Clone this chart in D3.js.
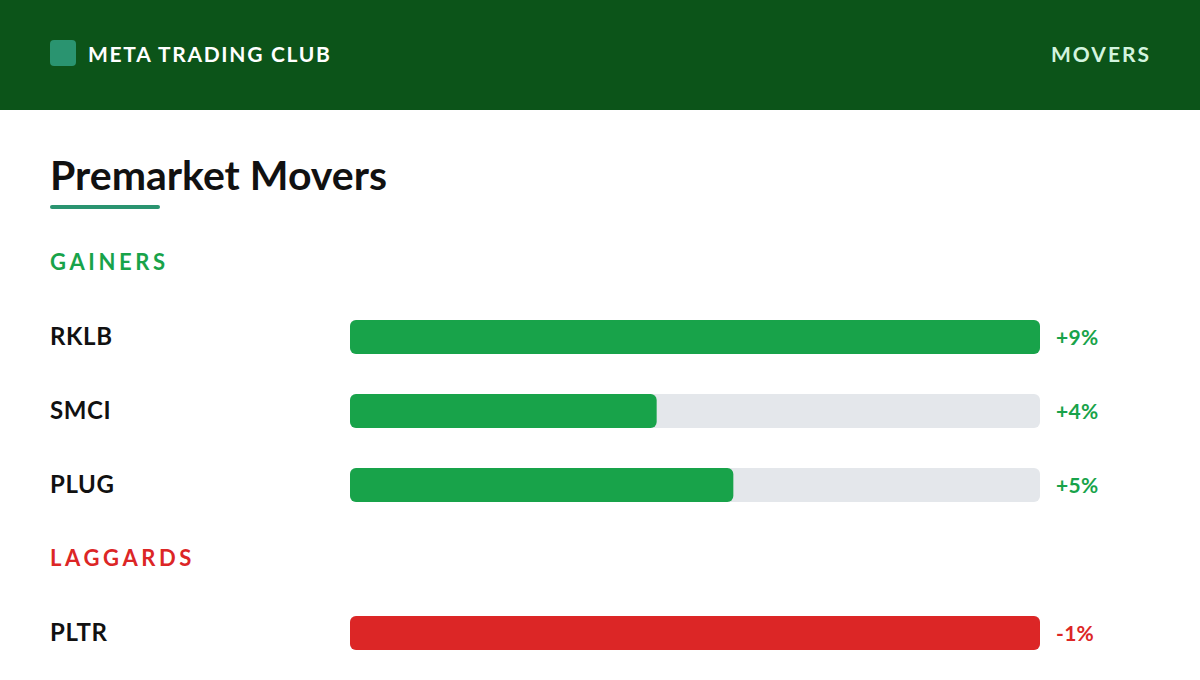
<!DOCTYPE html>
<html><head><meta charset="utf-8">
<script src="https://cdn.jsdelivr.net/npm/d3@7"></script>
<style>html,body{margin:0;padding:0;background:#fff;} svg{display:block;}</style>
</head><body><div id="chart"></div>
<script>
const gainerTickers = ["RKLB", "SMCI", "PLUG"];
const gainerValues = [9, 4, 5];
const laggardTickers = ["PLTR"];
const laggardValues = [-1];

const W = 1200, H = 680;
const FONT = "Lato, 'Open Sans', sans-serif";
const svg = d3.select("#chart").append("svg").attr("width", W).attr("height", H);

// header
svg.append("rect").attr("x",0).attr("y",0).attr("width",W).attr("height",110).attr("fill","#0c5419");
svg.append("rect").attr("x",50).attr("y",40).attr("width",26).attr("height",26).attr("rx",4).attr("fill","#2a9470");
svg.append("text").attr("x",88).attr("y",62).attr("fill","#ffffff").attr("font-family",FONT)
  .attr("font-weight",700).attr("font-size",21).attr("letter-spacing",1.7).text("META TRADING CLUB");
svg.append("text").attr("x",1151).attr("y",62).attr("text-anchor","end").attr("fill","#d3f4df").attr("font-family",FONT)
  .attr("font-weight",700).attr("font-size",21).attr("letter-spacing",2).text("MOVERS");

// title
svg.append("text").attr("x",50).attr("y",190).attr("fill","#111111").attr("font-family",FONT)
  .attr("font-weight",700).attr("font-size",41).text("Premarket Movers");
svg.append("line").attr("x1",52).attr("x2",158).attr("y1",207).attr("y2",207)
  .attr("stroke","#2a9470").attr("stroke-width",4).attr("stroke-linecap","round");

const x0 = 350, x1 = 1040, barH = 34;
const green = "#18a34a", red = "#dc2626", track = "#e4e7eb";

function section(title, color, y) {
  svg.append("text").attr("x",50).attr("y",y).attr("fill",color).attr("font-family",FONT)
    .attr("font-weight",700).attr("font-size",22).attr("letter-spacing",3.6).text(title);
}

function rows(tickers, values, color, yStart, fmt) {
  const maxAbs = d3.max(values, v => Math.abs(v));
  const xs = d3.scaleLinear().domain([0, maxAbs]).range([x0, x1]);
  const ys = d3.scaleBand().domain(tickers).range([yStart, yStart + 74*tickers.length]).paddingInner(0);
  const g = svg.append("g");
  const row = g.selectAll("g").data(tickers.map((t,i)=>({t, v: values[i]}))).join("g")
    .attr("transform", d => `translate(0,${ys(d.t) + ys.bandwidth()/2})`);
  row.append("text").attr("x",50).attr("y",8).attr("fill","#111").attr("font-family",FONT)
    .attr("font-weight",700).attr("font-size",24).attr("letter-spacing",0.6).text(d => d.t);
  row.append("rect").attr("x",x0).attr("y",-barH/2).attr("width",x1-x0).attr("height",barH).attr("rx",6).attr("fill",track);
  row.append("rect").attr("x",x0).attr("y",-barH/2).attr("width",d => xs(Math.abs(d.v)) - x0).attr("height",barH).attr("rx",6).attr("fill",color);
  row.append("text").attr("x",1056).attr("y",8).attr("fill",color).attr("font-family",FONT)
    .attr("font-weight",700).attr("font-size",21).attr("letter-spacing",0.3).text(d => fmt(d.v));
}

section("GAINERS", green, 270);
rows(gainerTickers, gainerValues, green, 300, v => "+" + v + "%");
section("LAGGARDS", red, 566);
rows(laggardTickers, laggardValues, red, 596, v => v + "%");
</script></body></html>
